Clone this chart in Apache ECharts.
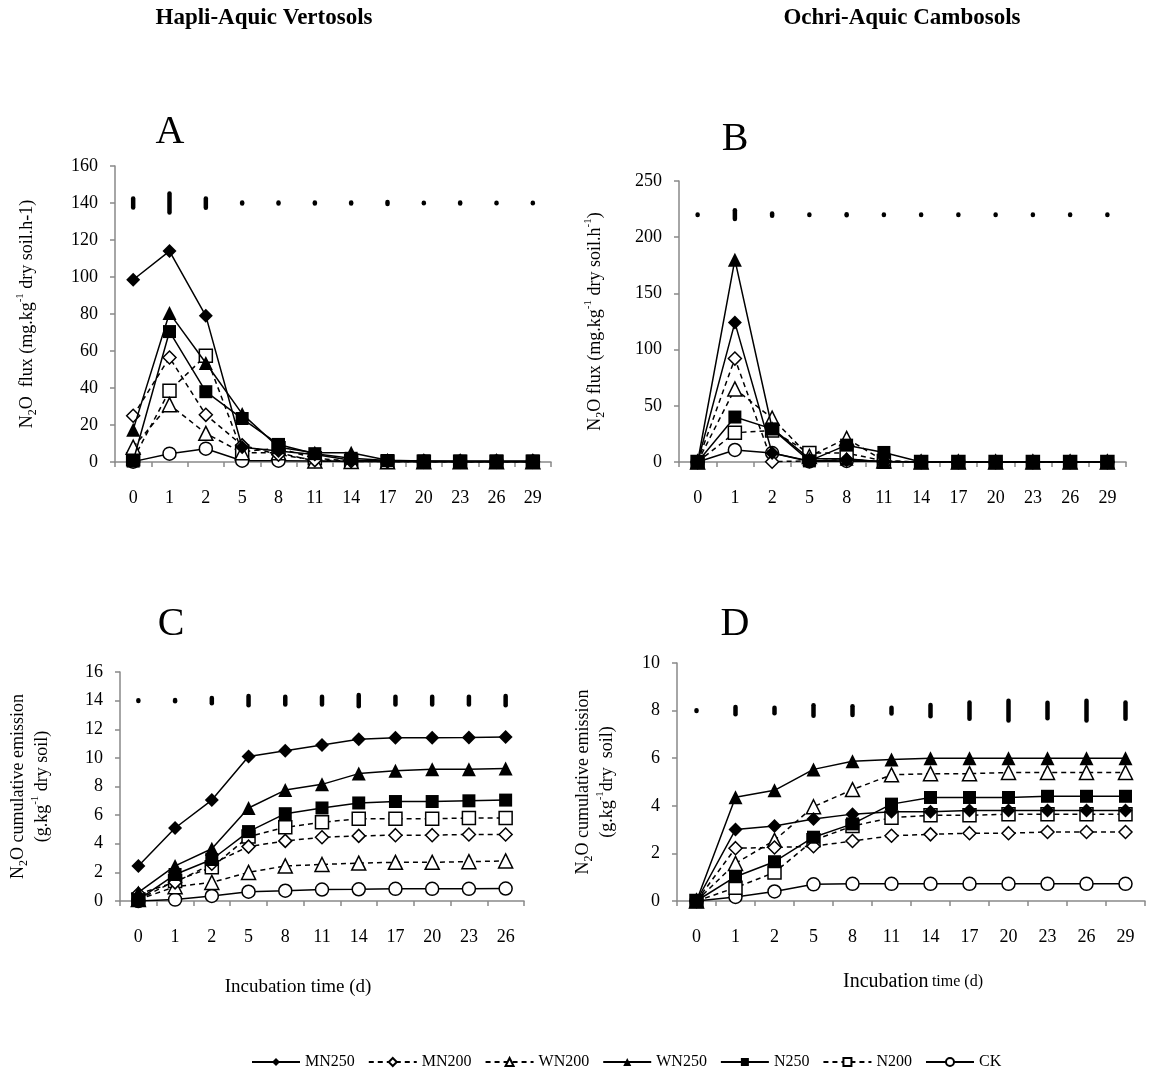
<!DOCTYPE html>
<html>
<head>
<meta charset="utf-8">
<script src="https://cdn.jsdelivr.net/npm/echarts@6/dist/echarts.min.js"></script>
<style>
  html, body { margin: 0; padding: 0; background: #fff; }
  #container { width: 1155px; height: 1072px; }
</style>
</head>
<body>
<div id="container"></div>
<script>
var dom = document.getElementById('container');
var myChart = echarts.init(dom, null, { renderer: 'canvas' });

// incubation days
const days12 = ['0', '1', '2', '5', '8', '11', '14', '17', '20', '23', '26', '29'];
const days11 = ['0', '1', '2', '5', '8', '11', '14', '17', '20', '23', '26'];

// A - flux, Hapli-Aquic Vertosols
const aMN250 = [98.5, 114, 79, 8, 6, 4, 1, 0.5, 0.3, 0.2, 0.2, 0.2];
const aMN200 = [25, 56.5, 25.5, 9, 4, 1, 0.5, 0.3, 0.2, 0.2, 0.2, 0.2];
const aWN200 = [8, 31, 15.5, 5, 5, 0.5, 0.3, 0.2, 0.2, 0.2, 0.2, 0.2];
const aWN250 = [17.5, 80.5, 53.5, 26, 8, 5, 5, 1, 0.5, 0.3, 0.3, 0.3];
const aN250 = [0.5, 70.5, 38, 23.5, 9.5, 4.5, 2, 0.8, 0.6, 0.5, 0.5, 0.5];
const aN200 = [1.5, 38.5, 57.5, 5.5, 7.5, 2, 0.5, 0.3, 0.2, 0.2, 0.2, 0.2];
const aCK = [0.2, 4.5, 7.2, 0.7, 0.7, 0.5, 0.3, 0.2, 0.2, 0.2, 0.2, 0.2];
const aSigLevel = 140;
const aLSD = [4.8, 10.2, 5, 0.6, 0.6, 0.6, 0.6, 1.2, 0.3, 0.6, 0.3, 0.3];

// B - flux, Ochri-Aquic Cambosols
const bMN250 = [0, 124, 8, 1, 2, 0.5, 0, 0, 0, 0, 0, 0];
const bMN200 = [0, 92, 0.3, 1, 2, 0.5, 0, 0, 0, 0, 0, 0];
const bWN200 = [0, 65, 39, 5, 21, 1, 0, 0, 0, 0, 0, 0];
const bWN250 = [0, 180, 30, 3, 3, 0, 0, 0, 0, 0, 0, 0];
const bN250 = [0, 40, 29.5, 1, 15, 8.5, 0, 0, 0, 0, 0, 0];
const bN200 = [0, 26, 28, 8, 8, 1, 0, 0, 0, 0, 0, 0];
const bCK = [0, 10.7, 8, 0.5, 1, 0.5, 0, 0, 0, 0, 0, 0];
const bSigLevel = 220;
const bLSD = [0.4, 7.8, 2, 0.4, 1, 0.4, 0.4, 0.4, 0.4, 0.4, 0.4, 0.4];

// C - cumulative, Hapli-Aquic Vertosols
const cMN250 = [2.45, 5.1, 7.05, 10.1, 10.5, 10.9, 11.3, 11.4, 11.4, 11.42, 11.45];
const cMN200 = [0.5, 1.3, 2.6, 3.8, 4.2, 4.45, 4.55, 4.6, 4.6, 4.65, 4.65];
const cWN200 = [0.1, 1.0, 1.3, 2.0, 2.45, 2.55, 2.65, 2.7, 2.7, 2.75, 2.8];
const cWN250 = [0.6, 2.45, 3.65, 6.5, 7.75, 8.15, 8.9, 9.1, 9.2, 9.2, 9.25];
const cN250 = [0.1, 1.85, 2.9, 4.85, 6.1, 6.5, 6.85, 6.95, 6.95, 7.0, 7.05];
const cN200 = [0.1, 1.4, 2.35, 4.5, 5.15, 5.5, 5.75, 5.75, 5.75, 5.8, 5.8];
const cCK = [0, 0.1, 0.35, 0.65, 0.72, 0.8, 0.82, 0.85, 0.85, 0.85, 0.87];
const cSigLevel = 14;
const cLSD = [0.05, 0.07, 0.38, 0.66, 0.54, 0.54, 0.8, 0.54, 0.54, 0.54, 0.64];

// D - cumulative, Ochri-Aquic Cambosols
const dMN250 = [0, 3.0, 3.15, 3.45, 3.65, 3.75, 3.75, 3.8, 3.8, 3.8, 3.8, 3.8];
const dMN200 = [0, 2.22, 2.25, 2.3, 2.52, 2.74, 2.8, 2.85, 2.85, 2.9, 2.9, 2.9];
const dWN200 = [0, 1.58, 2.55, 3.96, 4.68, 5.3, 5.35, 5.35, 5.4, 5.4, 5.4, 5.4];
const dWN250 = [0, 4.36, 4.65, 5.53, 5.87, 5.95, 6.0, 6.0, 6.0, 6.0, 6.0, 6.0];
const dN250 = [0, 1.02, 1.65, 2.68, 3.24, 4.07, 4.35, 4.35, 4.35, 4.4, 4.4, 4.4];
const dN200 = [0, 0.56, 1.2, 2.55, 3.15, 3.5, 3.6, 3.6, 3.65, 3.65, 3.65, 3.65];
const dCK = [0, 0.17, 0.4, 0.7, 0.72, 0.72, 0.72, 0.72, 0.72, 0.72, 0.72, 0.72];
const dSigLevel = 8;
const dLSD = [0.03, 0.3, 0.23, 0.44, 0.36, 0.24, 0.47, 0.68, 0.83, 0.65, 0.83, 0.68];

const legendNames = ['MN250', 'MN200', 'WN200', 'WN250', 'N250', 'N200', 'CK'];

const FONT = 'Liberation Serif';
const AXIS_GREY = '#898989';

// marker / line style for each treatment
const look = {
  MN250: { symbol: 'diamond', size: 14, filled: true, dashed: false, z: 3 },
  MN200: { symbol: 'diamond', size: 13, filled: false, dashed: true, z: 2 },
  WN200: { symbol: 'triangle', size: 14, filled: false, dashed: true, z: 2 },
  WN250: { symbol: 'triangle', size: 14, filled: true, dashed: false, z: 3 },
  N250: { symbol: 'rect', size: 13, filled: true, dashed: false, z: 4 },
  N200: { symbol: 'rect', size: 13, filled: false, dashed: true, z: 2 },
  CK: { symbol: 'circle', size: 13, filled: false, dashed: false, z: 1 }
};

function lineSeries(name, data, gi) {
  const s = look[name];
  return {
    name: name,
    type: 'line',
    xAxisIndex: gi,
    yAxisIndex: gi,
    data: data,
    symbol: s.symbol,
    symbolSize: s.size,
    showAllSymbol: true,
    lineStyle: { color: '#000', width: 1.5, type: s.dashed ? [5, 4] : 'solid' },
    itemStyle: {
      color: s.filled ? '#000' : '#fff',
      borderColor: '#000',
      borderWidth: s.filled ? 0 : 1.5
    },
    z: s.z,
    emphasis: { disabled: true }
  };
}

// significance bars (LSD) drawn at a fixed level above the curves
function sigSeries(level, lsd, gi) {
  return {
    type: 'custom',
    xAxisIndex: gi,
    yAxisIndex: gi,
    data: lsd.map((v, i) => [i, level, v]),
    encode: { x: 0, y: 1 },
    silent: true,
    z: 6,
    renderItem: function (params, api) {
      const i = api.value(0), c = api.value(1), h = api.value(2);
      const p1 = api.coord([i, c + h / 2]);
      const p2 = api.coord([i, c - h / 2]);
      return {
        type: 'line',
        shape: { x1: p1[0], y1: p1[1], x2: p2[0], y2: p2[1] },
        style: { stroke: '#000', lineWidth: 4.5, lineCap: 'round' }
      };
    }
  };
}

const richName = {
  sub: { fontFamily: FONT, fontSize: 12, verticalAlign: 'bottom', color: '#000' },
  sup: { fontFamily: FONT, fontSize: 11, verticalAlign: 'top', color: '#000' }
};

function xAxisCfg(gi, cats) {
  return {
    type: 'category',
    gridIndex: gi,
    data: cats,
    boundaryGap: true,
    axisLine: { lineStyle: { color: AXIS_GREY, width: 1.5 } },
    axisTick: { show: true, length: 5, lineStyle: { color: AXIS_GREY, width: 1.5 } },
    axisLabel: { interval: 0, margin: 27, fontFamily: FONT, fontSize: 18, color: '#000' },
    splitLine: { show: false }
  };
}

function yAxisCfg(gi, max, interval, name, gap) {
  return {
    type: 'value',
    gridIndex: gi,
    min: 0,
    max: max,
    interval: interval,
    axisLine: { show: true, lineStyle: { color: AXIS_GREY, width: 1.5 } },
    axisTick: { show: true, length: 5, lineStyle: { color: AXIS_GREY, width: 1.5 } },
    axisLabel: { margin: 17, fontFamily: FONT, fontSize: 18, color: '#000' },
    splitLine: { show: false },
    name: name,
    nameLocation: 'middle',
    nameRotate: 90,
    nameGap: gap,
    nameTextStyle: {
      fontFamily: FONT, fontSize: 18, color: '#000', lineHeight: 24,
      rich: richName
    }
  };
}

function label(text, x, y, size, bold) {
  return {
    type: 'text', x: x, y: y, silent: true,
    style: {
      text: text, fill: '#000',
      font: (bold ? 'bold ' : '') + size + 'px "' + FONT + '"',
      align: 'center', verticalAlign: 'middle'
    }
  };
}

var option = {
  backgroundColor: '#fff',
  animation: false,
  textStyle: { fontFamily: FONT },
  grid: [
    { left: 115, top: 166, width: 436, height: 296 },
    { left: 679, top: 181, width: 447, height: 281 },
    { left: 120, top: 672, width: 404, height: 229 },
    { left: 677, top: 663, width: 468, height: 238 }
  ],
  xAxis: [
    xAxisCfg(0, days12),
    xAxisCfg(1, days12),
    xAxisCfg(2, days11),
    xAxisCfg(3, days12)
  ],
  yAxis: [
    yAxisCfg(0, 160, 20, 'N{sub|2}O  flux (mg.kg{sup|-1} dry soil.h-1)', 76),
    yAxisCfg(1, 250, 50, 'N{sub|2}O flux (mg.kg{sup|-1} dry soil.h{sup|-1})', 72),
    yAxisCfg(2, 16, 2, 'N{sub|2}O cumulative emission\n(g.kg{sup|-1} dry soil)', 66),
    yAxisCfg(3, 10, 2, 'N{sub|2}O cumulative emission\n(g.kg{sup|-1}dry  soil)', 58)
  ],
  legend: {
    data: legendNames,
    left: 246,
    top: 1049,
    itemWidth: 48,
    itemHeight: 10,
    itemGap: 13,
    textStyle: { fontFamily: FONT, fontSize: 16, color: '#000' }
  },
  graphic: [
    label('Hapli-Aquic Vertosols', 264, 18, 23, true),
    label('Ochri-Aquic Cambosols', 902, 18, 23, true),
    label('A', 170, 132, 40, false),
    label('B', 735, 139, 40, false),
    label('C', 171, 624, 40, false),
    label('D', 735, 624, 40, false),
    label('Incubation time (d)', 298, 987, 19, false),
    {
      type: 'text', x: 913, y: 982, silent: true,
      style: {
        text: '{a|Incubation} {b|time (d)}',
        align: 'center', verticalAlign: 'middle',
        rich: {
          a: { fontFamily: FONT, fontSize: 20, fill: '#000' },
          b: { fontFamily: FONT, fontSize: 16, fill: '#000' }
        }
      }
    }
  ],
  series: [
    lineSeries('CK', aCK, 0), lineSeries('N200', aN200, 0), lineSeries('WN200', aWN200, 0),
    lineSeries('MN200', aMN200, 0), lineSeries('WN250', aWN250, 0), lineSeries('MN250', aMN250, 0),
    lineSeries('N250', aN250, 0), sigSeries(aSigLevel, aLSD, 0),

    lineSeries('CK', bCK, 1), lineSeries('N200', bN200, 1), lineSeries('WN200', bWN200, 1),
    lineSeries('MN200', bMN200, 1), lineSeries('WN250', bWN250, 1), lineSeries('MN250', bMN250, 1),
    lineSeries('N250', bN250, 1), sigSeries(bSigLevel, bLSD, 1),

    lineSeries('CK', cCK, 2), lineSeries('N200', cN200, 2), lineSeries('WN200', cWN200, 2),
    lineSeries('MN200', cMN200, 2), lineSeries('WN250', cWN250, 2), lineSeries('MN250', cMN250, 2),
    lineSeries('N250', cN250, 2), sigSeries(cSigLevel, cLSD, 2),

    lineSeries('CK', dCK, 3), lineSeries('N200', dN200, 3), lineSeries('WN200', dWN200, 3),
    lineSeries('MN200', dMN200, 3), lineSeries('WN250', dWN250, 3), lineSeries('MN250', dMN250, 3),
    lineSeries('N250', dN250, 3), sigSeries(dSigLevel, dLSD, 3)
  ]
};

if (option && typeof option === 'object') {
  myChart.setOption(option);
}

window.addEventListener('resize', myChart.resize);
</script>
</body>
</html>
